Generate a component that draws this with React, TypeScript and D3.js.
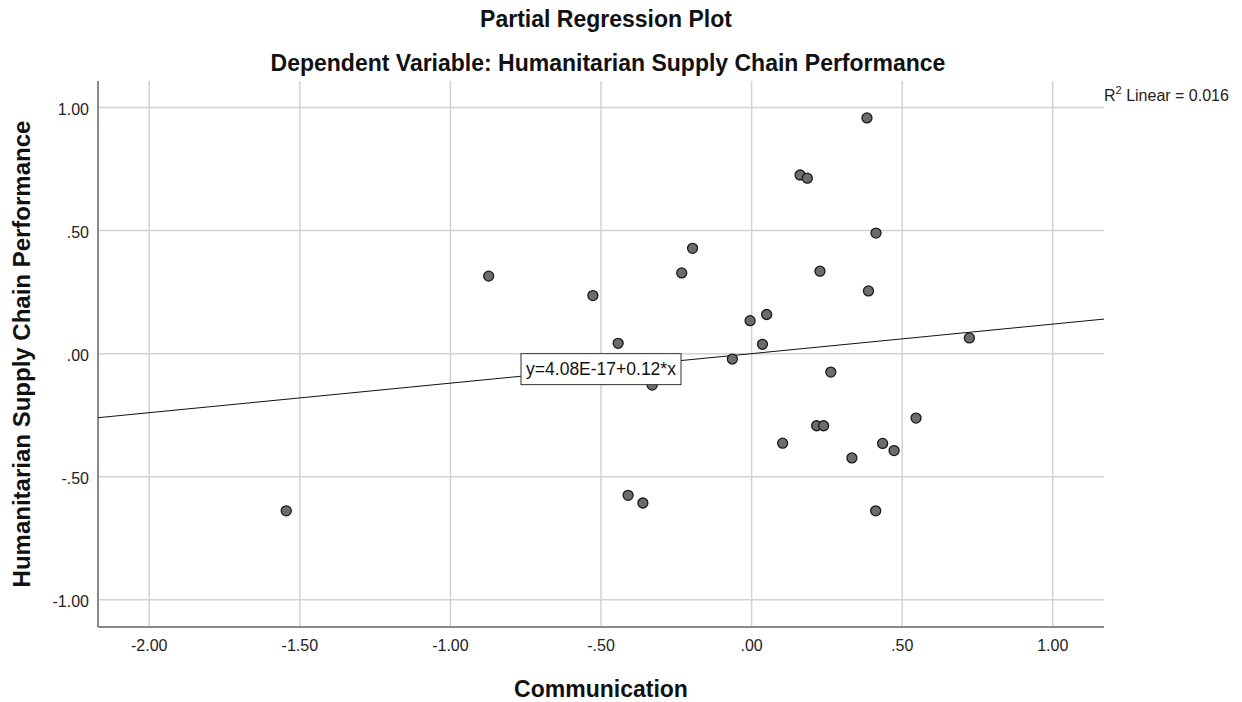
import * as d3 from "d3";

// partial residuals: Communication (x) vs Humanitarian Supply Chain Performance (y)
const commValues = [
  -1.545, -0.873, -0.527, -0.443, -0.33, -0.232, -0.196, -0.41, -0.361, -0.064,
  -0.005, 0.05, 0.036, 0.103, 0.161, 0.185, 0.227, 0.216, 0.239, 0.263,
  0.333, 0.383, 0.388, 0.413, 0.412, 0.435, 0.473, 0.546, 0.723,
];
const perfValues = [
  -0.639, 0.315, 0.236, 0.042, -0.128, 0.328, 0.428, -0.576, -0.607, -0.022,
  0.134, 0.159, 0.038, -0.364, 0.726, 0.713, 0.335, -0.293, -0.293, -0.075,
  -0.424, 0.958, 0.255, 0.49, -0.639, -0.365, -0.394, -0.262, 0.064,
];

const xTicks = [-2, -1.5, -1, -0.5, 0, 0.5, 1];
const yTicks = [-1, -0.5, 0, 0.5, 1];
const intercept = 4.08e-17;
const slope = 0.12;
const fitLabel = "y=4.08E-17+0.12*x";
const fitLabelAt = -0.5;

const W = 1242;
const H = 702;
const M = { left: 98, right: 138, top: 81, bottom: 75 };
const FONT = "Arial, 'Liberation Sans', sans-serif";

// SPSS style: drop leading zero, two decimals
const fmt = (v: number) => {
  const s = Math.abs(v).toFixed(2).replace(/^0/, "");
  return (v < 0 ? "-" : "") + s;
};

export default function App() {
  const x = d3.scaleLinear().domain([-2.17, 1.17]).range([M.left, W - M.right]);
  const y = d3.scaleLinear().domain([-1.111, 1.108]).range([H - M.bottom, M.top]);
  const [x0, x1] = x.range();
  const [yb, yt] = y.range();

  const fit = d3
    .line<number>()
    .x((d) => x(d))
    .y((d) => y(intercept + slope * d));

  const labelW = 160;
  const labelH = 31;
  const lx = x(fitLabelAt) - labelW / 2;
  const ly = y(0);

  return (
    <svg
      width={W}
      height={H}
      style={{ position: "absolute", left: 0, top: 0, background: "#fff" }}
      fontFamily={FONT}
    >
      <text x={606} y={27} fontSize={23} fontWeight={700} textAnchor="middle" fill="#111">
        Partial Regression Plot
      </text>
      <text x={608} y={71} fontSize={23} fontWeight={700} textAnchor="middle" fill="#111">
        Dependent Variable: Humanitarian Supply Chain Performance
      </text>

      {/* grid */}
      {xTicks.map((t) => (
        <line key={"gx" + t} x1={x(t)} x2={x(t)} y1={yt} y2={yb} stroke="#d2d2d2" strokeWidth={1.5} />
      ))}
      {yTicks.map((t) => (
        <line key={"gy" + t} x1={x0} x2={x1} y1={y(t)} y2={y(t)} stroke="#d2d2d2" strokeWidth={1.5} />
      ))}

      {/* axes */}
      <line x1={x0} x2={x0} y1={yt} y2={yb} stroke="#8a8a8a" strokeWidth={2} />
      <line x1={x0} x2={x1} y1={yb} y2={yb} stroke="#8a8a8a" strokeWidth={2} />

      {xTicks.map((t) => (
        <text key={"tx" + t} x={x(t)} y={651} fontSize={16} textAnchor="middle" fill="#222">
          {fmt(t)}
        </text>
      ))}
      {yTicks.map((t) => (
        <text key={"ty" + t} x={89} y={y(t) + 7} fontSize={16} textAnchor="end" fill="#222">
          {fmt(t)}
        </text>
      ))}

      <text x={(x0 + x1) / 2} y={697} fontSize={23} fontWeight={700} textAnchor="middle" fill="#111">
        Communication
      </text>
      <text
        transform={`translate(30,${(yt + yb) / 2}) rotate(-90)`}
        fontSize={24}
        fontWeight={700}
        textAnchor="middle"
        fill="#111"
      >
        Humanitarian Supply Chain Performance
      </text>

      {/* fit line */}
      <path d={fit([x.domain()[0], x.domain()[1]]) || ""} stroke="#111" strokeWidth={1} fill="none" />

      {/* points */}
      {commValues.map((v, i) => (
        <circle key={i} cx={x(v)} cy={y(perfValues[i])} r={5} fill="#6c6c6c" stroke="#1a1a1a" strokeWidth={1.3} />
      ))}

      {/* fit label */}
      <rect x={lx} y={ly} width={labelW} height={labelH} fill="#fff" stroke="#333" strokeWidth={1} />
      <text x={lx + labelW / 2} y={ly + labelH / 2 + 6} fontSize={17.5} textAnchor="middle" fill="#111">
        {fitLabel}
      </text>

      <text x={1104} y={101} fontSize={16} fill="#222">
        R<tspan dy={-7} fontSize={11}>2</tspan>
        <tspan dy={7}> Linear = 0.016</tspan>
      </text>
    </svg>
  );
}
